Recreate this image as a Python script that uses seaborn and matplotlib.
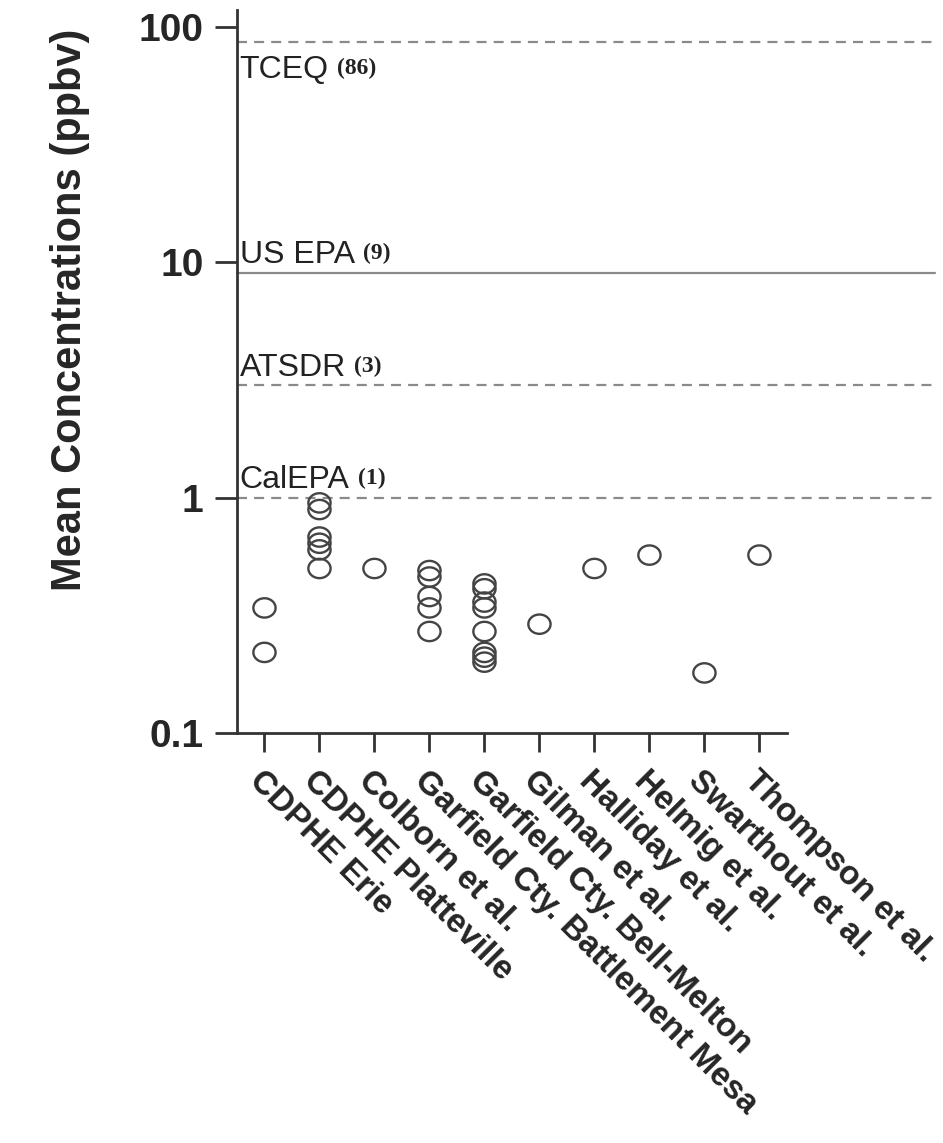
import numpy as np
import pandas as pd
import matplotlib
matplotlib.use("Agg")
import matplotlib.pyplot as plt
from matplotlib.path import Path
from matplotlib.ticker import NullLocator
import seaborn as sns

# studies along the x axis
studies = ["CDPHE Erie", "CDPHE Platteville", "Colborn et al.",
           "Garfield Cty. Battlement Mesa", "Garfield Cty. Bell-Melton",
           "Gilman et al.", "Halliday et al.", "Helmig et al.",
           "Swarthout et al.", "Thompson et al."]

# mean benzene concentrations (ppbv)
erie = [0.34, 0.22]
platteville = [0.95, 0.89, 0.68, 0.64, 0.60, 0.50]
colborn = [0.50]
battlement = [0.49, 0.46, 0.38, 0.34, 0.27]
bell_melton = [0.43, 0.41, 0.36, 0.34, 0.27, 0.22, 0.21, 0.20]
gilman = [0.29]
halliday = [0.50]
helmig = [0.57]
swarthout = [0.18]
thompson = [0.57]

# health guideline levels (ppbv)
guide_names = ["TCEQ", "US EPA", "ATSDR", "CalEPA"]
guide_values = [86, 9, 3, 1]

yticks = [0.1, 1, 10, 100]
ytick_labels = ["0.1", "1", "10", "100"]

groups = [erie, platteville, colborn, battlement, bell_melton,
          gilman, halliday, helmig, swarthout, thompson]
df = pd.DataFrame({
    "study": [s for s, g in zip(studies, groups) for _ in g],
    "conc": [v for g in groups for v in g],
})

sns.set_style("ticks")
plt.rcParams["font.family"] = ["Liberation Sans", "DejaVu Sans"]

fig = plt.figure(figsize=(9.43, 11.43), dpi=100)
ax = fig.add_axes([0.2513, 0.3587, 0.5832, 0.6326])

# slightly wide open circle, like the source image
t = np.linspace(0, 2 * np.pi, 60)
ellipse = Path(np.column_stack([1.15 * np.cos(t), np.sin(t)]), closed=True)

sns.stripplot(data=df, x="study", y="conc", order=studies, jitter=False,
              marker=ellipse, size=16, facecolor="none", edgecolor="#444444",
              linewidth=1.7, color="#444444", ax=ax)
ax.set_yscale("log")
ax.set_ylim(0.1, 118)
ax.set_xlim(-0.5, len(studies) - 0.5)

for name, val in zip(guide_names, guide_values):
    ls = "-" if name == "US EPA" else (0, (4.5, 3.2))
    ax.axhline(val, xmin=0, xmax=1.27, clip_on=False, color="#8a8a8a",
               lw=1.6, ls=ls, zorder=1)
    if name == "TCEQ":
        lab = ax.annotate(name, xy=(0.005, val), xycoords=("axes fraction", "data"),
                          xytext=(0, -9), textcoords="offset points",
                          ha="left", va="top", fontsize=23, color="#222222")
    else:
        lab = ax.annotate(name, xy=(0.005, val), xycoords=("axes fraction", "data"),
                          xytext=(0, 7), textcoords="offset points",
                          ha="left", va="baseline", fontsize=23, color="#222222")
    ax.annotate(f"({val})", xy=(1, 1), xycoords=lab, xytext=(6, -2),
                textcoords="offset points", ha="left", va="top",
                fontsize=17, family="Liberation Serif", weight="bold",
                color="#222222")

ax.set_yticks(yticks)
ax.set_yticklabels(ytick_labels, fontsize=28, weight="bold")
ax.yaxis.set_minor_locator(NullLocator())
ax.set_xticks(range(len(studies)))
ax.set_xticklabels(studies, rotation=-45, ha="left", rotation_mode="anchor",
                   fontsize=24, weight="bold")

ax.tick_params(axis="y", length=16, width=2, pad=8, color="#333333")
ax.tick_params(axis="x", length=14, width=2, pad=9, color="#333333")
for side in ["top", "right"]:
    ax.spines[side].set_visible(False)
for side in ["left", "bottom"]:
    ax.spines[side].set_linewidth(2)
    ax.spines[side].set_color("#333333")

ax.set_xlabel("")
ax.set_ylabel("Mean Concentrations (ppbv)", fontsize=30, weight="bold")
ax.yaxis.set_label_coords(-0.268, 0.585)

fig.savefig("out.png", dpi=100, facecolor="white")
